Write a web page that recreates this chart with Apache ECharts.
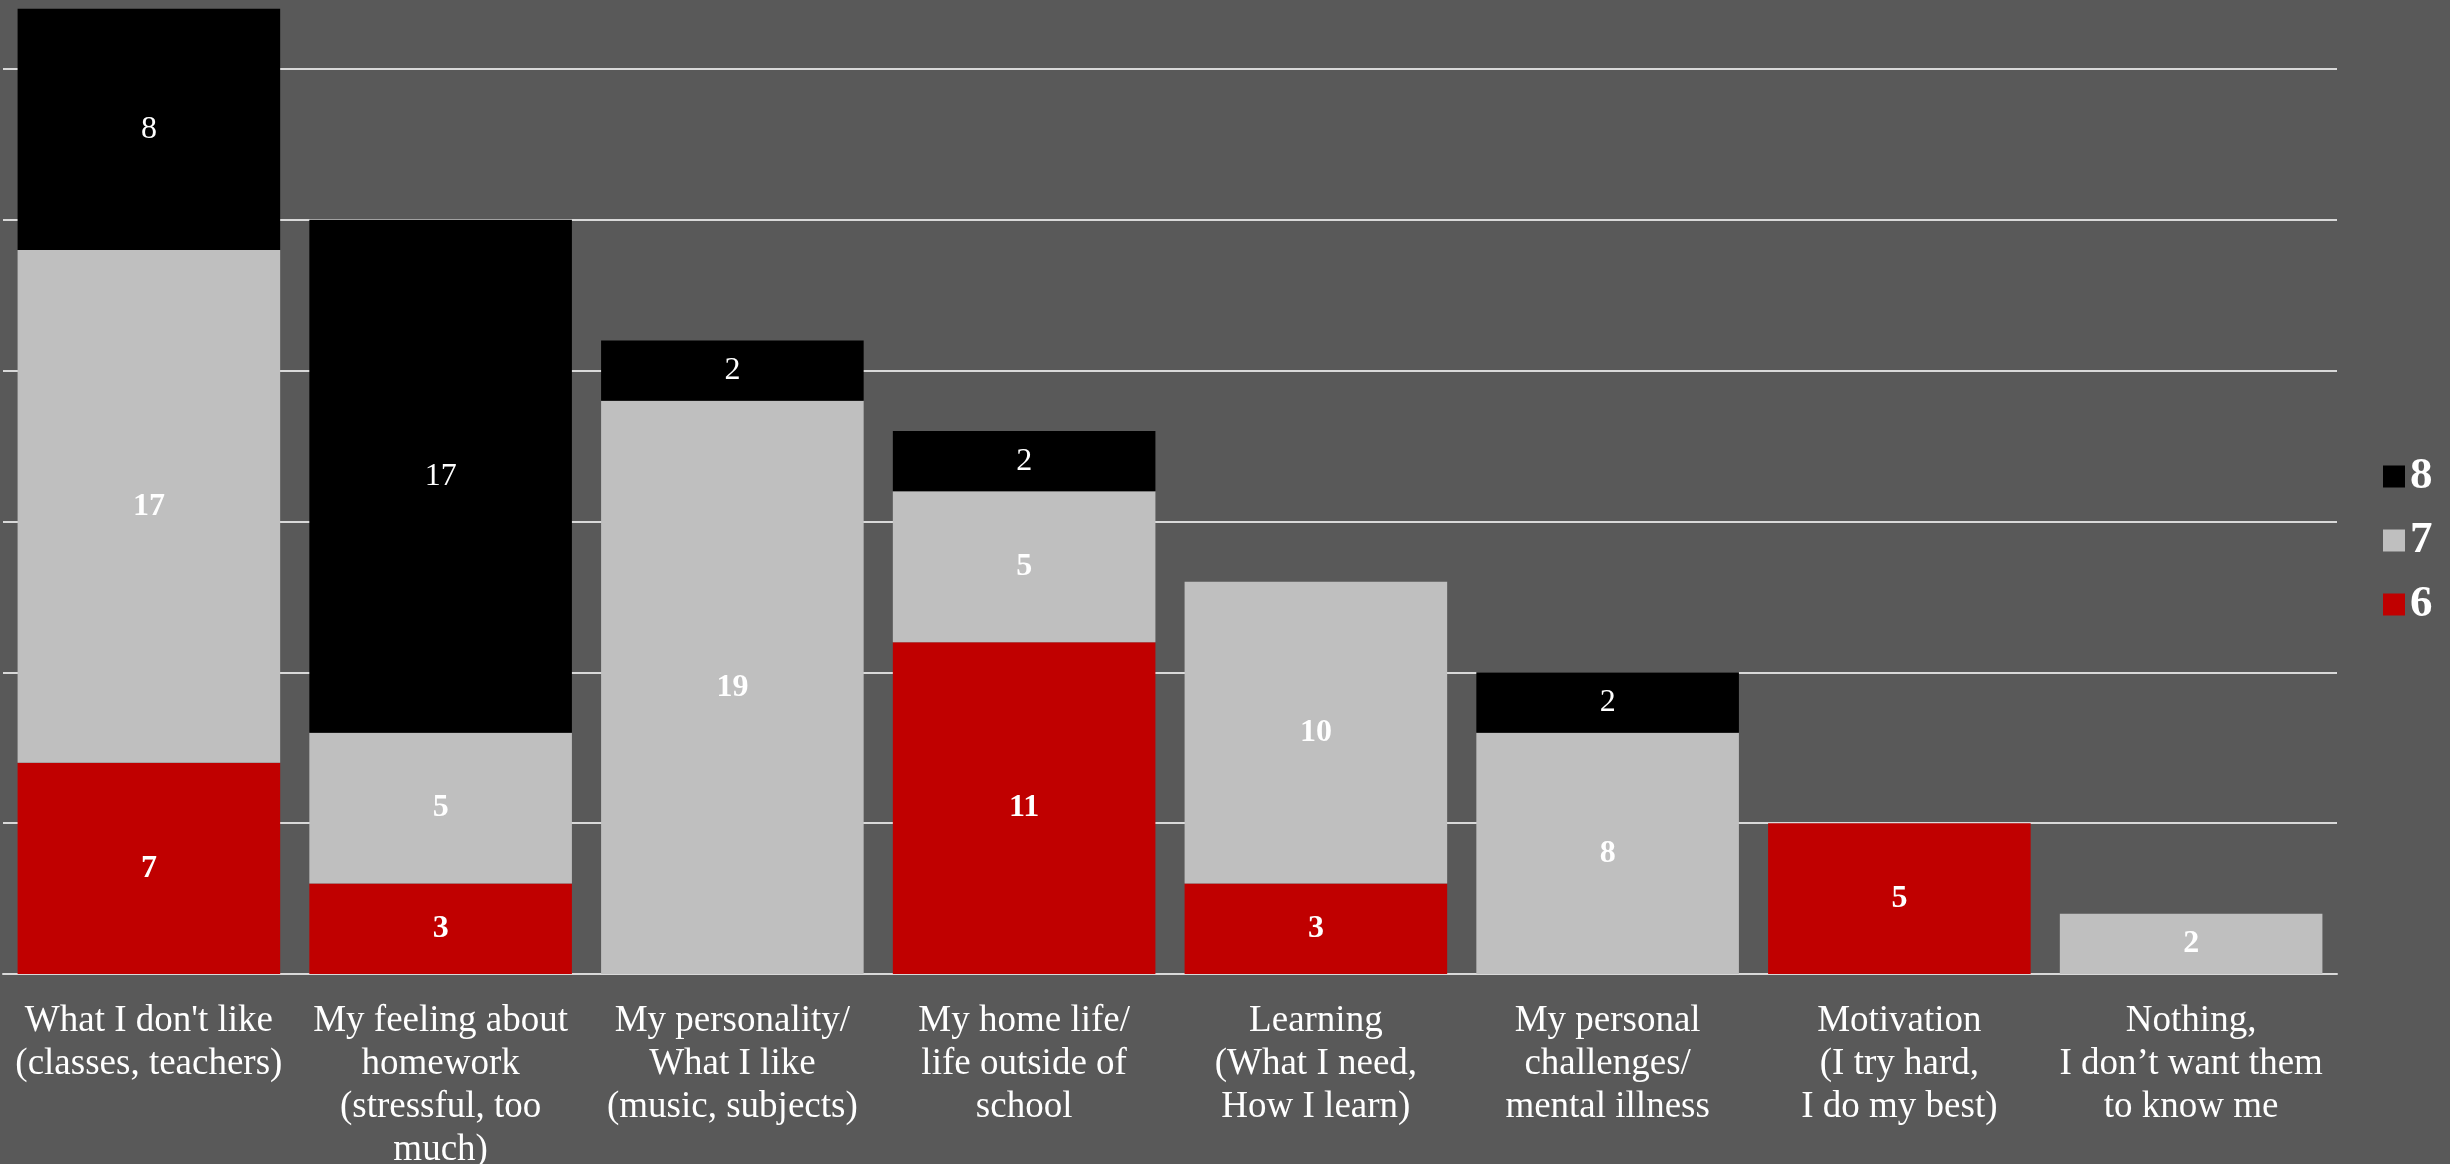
<!DOCTYPE html>
<html>
<head>
<meta charset="utf-8">
<script src="https://cdn.jsdelivr.net/npm/echarts@6/dist/echarts.min.js"></script>
<style>
html,body{margin:0;padding:0;background:#595959;}
#chart{width:2450px;height:1164px;}
</style>
</head>
<body>
<div id="chart"></div>
<script>
const categories = [
  "What I don't like\n(classes, teachers)",
  "My feeling about\nhomework\n(stressful, too\nmuch)",
  "My personality/\nWhat I like\n(music, subjects)",
  "My home life/\nlife outside of\nschool",
  "Learning\n(What I need,\nHow I learn)",
  "My personal\nchallenges/\nmental illness",
  "Motivation\n(I try hard,\nI do my best)",
  "Nothing,\nI don\u2019t want them\nto know me"
];
const series6 = [7, 3, 0, 11, 3, 0, 5, 0];
const series7 = [17, 5, 19, 5, 10, 8, 0, 2];
const series8 = [8, 17, 2, 2, 0, 2, 0, 0];
const yTicks = [0, 5, 10, 15, 20, 25, 30];

const font = "'Liberation Serif', 'Times New Roman', serif";
const chart = echarts.init(document.getElementById('chart'));

function lbl(bold) {
  return {
    show: true,
    position: 'inside',
    color: '#ffffff',
    fontFamily: font,
    fontSize: 32,
    fontWeight: bold ? 'bold' : 'normal',
    formatter: p => (p.value ? String(p.value) : '')
  };
}

chart.setOption({
  backgroundColor: '#595959',
  animation: false,
  grid: { left: 3, right: 113, top: 69, bottom: 190, containLabel: false, outerBoundsMode: 'none' },
  legend: {
    orient: 'vertical',
    left: 2378,
    top: 449,
    data: ['8', '7', '6'],
    itemWidth: 22,
    itemHeight: 22,
    itemGap: 19,
    icon: 'rect',
    textStyle: { color: '#ffffff', fontFamily: font, fontSize: 45, fontWeight: 'bold', padding: [0, 0, 0, 0] }
  },
  xAxis: {
    type: 'category',
    data: categories,
    axisLine: { show: true, lineStyle: { color: '#d9d9d9', width: 2 } },
    axisTick: { show: false },
    axisLabel: {
      interval: 0,
      color: '#ffffff',
      fontFamily: font,
      fontSize: 37,
      lineHeight: 43,
      margin: 26
    }
  },
  yAxis: {
    type: 'value',
    min: yTicks[0],
    max: yTicks[yTicks.length - 1],
    interval: 5,
    axisLine: { show: false },
    axisTick: { show: false },
    axisLabel: { show: false },
    splitLine: { lineStyle: { color: '#d9d9d9', width: 2 } }
  },
  series: [
    { name: '6', type: 'bar', stack: 'a', data: series6, barCategoryGap: '10%', clip: false,
      itemStyle: { color: '#c00000' }, label: lbl(true) },
    { name: '7', type: 'bar', stack: 'a', data: series7, barCategoryGap: '10%', clip: false,
      itemStyle: { color: '#bfbfbf' }, label: lbl(true) },
    { name: '8', type: 'bar', stack: 'a', data: series8, barCategoryGap: '10%', clip: false,
      itemStyle: { color: '#000000' }, label: lbl(false) }
  ]
});
</script>
</body>
</html>
